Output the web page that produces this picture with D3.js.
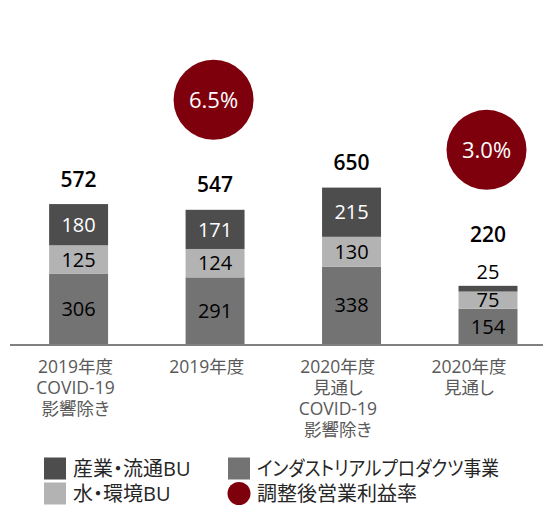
<!DOCTYPE html>
<html>
<head>
<meta charset="utf-8">
<script src="https://cdn.jsdelivr.net/npm/d3@7"></script>
<style>
  html, body { margin: 0; padding: 0; background: #fff; }
  svg { display: block; font-family: "Open Sans", "Noto Sans CJK JP", sans-serif; }
  .jp { font-feature-settings: "palt"; }
</style>
</head>
<body>
<div id="chart"></div>
<script>
const width = 543;
const height = 506;

// data
const categories = [
  ["2019年度", "COVID-19", "影響除き"],
  ["2019年度"],
  ["2020年度", "見通し", "COVID-19", "影響除き"],
  ["2020年度", "見通し"]
];
const industrialProducts = [306, 291, 338, 154];
const waterEnv = [125, 124, 130, 75];
const industryDist = [180, 171, 215, 25];
const totals = [572, 547, 650, 220];
const marginRates = [null, "6.5%", null, "3.0%"];

const seriesKeys = ["industrial", "water", "industry"];
const seriesNames = {
  industry: "産業・流通BU",
  water: "水・環境BU",
  industrial: "インダストリアルプロダクツ事業",
  rate: "調整後営業利益率"
};
const colors = { industrial: "#737373", water: "#b3b3b3", industry: "#4d4d4d" };
const labelColors = { industrial: "#000", water: "#000", industry: "#fff" };
const rateColor = "#7f000d";

const rows = categories.map((c, i) => ({
  idx: i,
  industrial: industrialProducts[i],
  water: waterEnv[i],
  industry: industryDist[i],
  total: totals[i],
  rate: marginRates[i]
}));

const svg = d3.select('#chart')
  .append('svg')
  .attr('width', width)
  .attr('height', height);

const x = d3.scaleBand()
  .domain(d3.range(categories.length))
  .range([15, 551.6])
  .paddingInner(0.568)
  .paddingOuter(0.25);

// category labels sit a little left of the bars
const xLabel = d3.scalePoint()
  .domain(d3.range(categories.length))
  .range([75.5, 469]);

const y = d3.scaleLinear()
  .domain([0, 700])
  .range([344, 183.7]);

const stack = d3.stack().keys(seriesKeys)(rows);
const thin = 10; // px, segments thinner than this get their label above the bar

// bars
const layer = svg.append('g')
  .selectAll('g')
  .data(stack)
  .enter().append('g')
  .attr('fill', d => colors[d.key]);

layer.selectAll('rect')
  .data(d => d)
  .enter().append('rect')
  .attr('x', (d, i) => x(i))
  .attr('width', x.bandwidth())
  .attr('y', d => y(d[1]))
  .attr('height', d => y(d[0]) - y(d[1]));

// segment labels
stack.forEach(s => {
  svg.append('g')
    .selectAll('text')
    .data(s)
    .enter().append('text')
    .attr('x', (d, i) => x(i) + x.bandwidth() / 2)
    .attr('y', d => {
      const h = y(d[0]) - y(d[1]);
      if (h < thin) return y(d[1]) - 14;
      return (y(d[0]) + y(d[1])) / 2;
    })
    .attr('dy', '0.36em')
    .attr('text-anchor', 'middle')
    .attr('font-size', 20)
    .attr('fill', d => (y(d[0]) - y(d[1]) < thin) ? '#000' : labelColors[s.key])
    .text(d => d[1] - d[0]);
});

// totals
const totalY = d => {
  const sum = d.industrial + d.water + d.industry;
  const topH = y(d.industrial + d.water) - y(sum);
  return topH < thin ? y(sum) - 51 : y(sum) - 25;
};

svg.append('g')
  .selectAll('text')
  .data(rows)
  .enter().append('text')
  .attr('x', d => x(d.idx) + x.bandwidth() / 2)
  .attr('y', totalY)
  .attr('dy', '0.36em')
  .attr('text-anchor', 'middle')
  .attr('font-size', 21)
  .attr('font-weight', 600)
  .attr('fill', '#000')
  .text(d => d.total);

// margin rate bubbles
const bubbles = svg.append('g')
  .selectAll('g')
  .data(rows.filter(d => d.rate))
  .enter().append('g')
  .attr('transform', d => `translate(${x(d.idx) + x.bandwidth() / 2 - 1.5},${totalY(d) - 85})`);

bubbles.append('circle')
  .attr('r', 40)
  .attr('fill', rateColor);

bubbles.append('text')
  .attr('text-anchor', 'middle')
  .attr('dy', '0.36em')
  .attr('font-size', 22)
  .attr('fill', '#fff')
  .text(d => d.rate);

// axis line
svg.append('line')
  .attr('x1', 10).attr('x2', width)
  .attr('y1', y(0) + 1).attr('y2', y(0) + 1)
  .attr('stroke', '#808080')
  .attr('stroke-width', 2);

// category labels
const catText = svg.append('g')
  .selectAll('text')
  .data(categories)
  .enter().append('text')
  .attr('class', 'jp')
  .attr('x', (d, i) => xLabel(i))
  .attr('y', 367)
  .attr('text-anchor', 'middle')
  .attr('font-size', 17.5)
  .attr('fill', '#595959');

catText.selectAll('tspan')
  .data(d => d)
  .enter().append('tspan')
  .attr('x', function () { return this.parentNode.getAttribute('x'); })
  .attr('dy', (d, i) => i === 0 ? '0.36em' : 21)
  .text(d => d);

// legend
const legendItems = [
  { key: "industry", col: 0, row: 0 },
  { key: "industrial", col: 1, row: 0, fit: 242 },
  { key: "water", col: 0, row: 1 },
  { key: "rate", col: 1, row: 1 }
];
const legend = svg.append('g')
  .selectAll('g')
  .data(legendItems)
  .enter().append('g')
  .attr('transform', d => `translate(${d.col ? 228 : 44},${d.row ? 493.5 : 468.5})`);

legend.filter(d => d.key !== 'rate').append('rect')
  .attr('x', 0).attr('y', -11)
  .attr('width', 22).attr('height', 22)
  .attr('fill', d => colors[d.key]);

legend.filter(d => d.key === 'rate').append('circle')
  .attr('cx', 11).attr('r', 11.5)
  .attr('fill', rateColor);

const legendText = legend.append('text')
  .attr('class', 'jp')
  .attr('x', 29)
  .attr('dy', '0.36em')
  .attr('font-size', 20)
  .attr('fill', '#262626')
  .text(d => seriesNames[d.key]);

legendText.filter(d => d.fit)
  .attr('textLength', d => d.fit)
  .attr('lengthAdjust', 'spacingAndGlyphs');
</script>
</body>
</html>
